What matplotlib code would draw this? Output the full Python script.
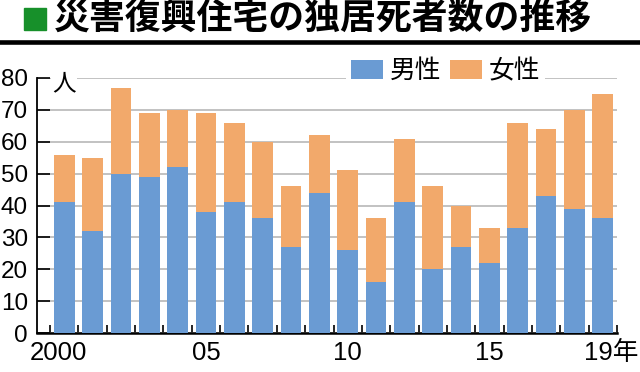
import matplotlib.pyplot as plt
import matplotlib.patches as mpatches
import matplotlib.lines as mlines
import matplotlib.transforms as mtransforms
import numpy as np

# 災害復興住宅の独居死者数（男性・女性）
years = list(range(2000, 2020))
male = [41, 32, 50, 49, 52, 38, 41, 36, 27, 44, 26, 16, 41, 20, 27, 22, 33, 43, 39, 36]
total = [56, 55, 77, 69, 70, 69, 66, 60, 46, 62, 51, 36, 61, 46, 40, 33, 66, 64, 70, 75]
female = [t - m for t, m in zip(total, male)]
tick_pos = [0, 5, 10, 15, 19]
tick_labels = ['2000', '05', '10', '15', '19年']

blue = '#6a9bd3'
orange = '#f2a96b'
jp = ['Noto Sans CJK JP', 'DejaVu Sans']
num = ['Liberation Sans Narrow', 'Liberation Sans', 'Noto Sans CJK JP', 'DejaVu Sans']

fig = plt.figure(figsize=(6.4, 3.72), dpi=100)
ax = fig.add_axes([37/640, 1-333/372, (617-37)/640, (333-78)/372])

x = np.arange(len(years))
ax.bar(x, male, width=0.73, color=blue, zorder=3, label='男性')
ax.bar(x, female, width=0.73, bottom=male, color=orange, zorder=3, label='女性')

ax.set_xlim(-0.96, 19.5)
ax.set_ylim(0, 80)
ax.set_yticks(range(0, 81, 10))
ax.set_xticks(np.arange(-0.5, 19.6, 1))
ax.set_xticklabels([])
ax.set_xticks(tick_pos, minor=True)
ax.set_xticklabels(tick_labels, minor=True, fontfamily=num, fontsize=18.5)
ax.tick_params(axis='x', which='major', direction='in', length=6, width=1.2)
ax.tick_params(axis='x', which='minor', length=0, pad=6)
ax.tick_params(axis='y', direction='in', length=9.5, width=1.2, pad=6.5, labelsize=17.5)
for lab in ax.get_yticklabels():
    lab.set_fontfamily(num)

# 「19年」を右へずらす
lab19 = ax.get_xticklabels(minor=True)[-1]
lab19.set_transform(lab19.get_transform() + mtransforms.ScaledTranslation(8/100, 0, fig.dpi_scale_trans))
lab00 = ax.get_xticklabels(minor=True)[0]
lab00.set_transform(lab00.get_transform() + mtransforms.ScaledTranslation(-6/100, 0, fig.dpi_scale_trans))

ax.grid(axis='y', color='#b8b8b8', lw=1.2, zorder=0)
for s in ['top', 'right']:
    ax.spines[s].set_visible(False)
ax.spines['left'].set_linewidth(1.3)
ax.spines['bottom'].set_linewidth(1.8)

ax.text(0, 78.3, '人', ha='center', va='center', fontsize=17, fontfamily=jp,
        bbox=dict(facecolor='white', edgecolor='none', pad=1), zorder=4)

leg = ax.legend(loc='upper left', bbox_to_anchor=(346/640, 1-53/372), bbox_transform=fig.transFigure,
                ncol=2, frameon=True, fancybox=False, edgecolor='none', facecolor='white', framealpha=1,
                prop={'family': jp, 'size': 18.5}, handlelength=1.25, handleheight=0.75,
                handletextpad=0.25, columnspacing=0.35, borderpad=0.2, borderaxespad=0)
leg.set_zorder(5)

# タイトル
fig.patches.append(mpatches.Rectangle((24/640, 1-30/372), 22/640, 22/372, transform=fig.transFigure,
                                      color='#17902a', figure=fig))
fig.text(54/640, 1-19/372, '災害復興住宅の独居死者数の推移', fontsize=25.8, fontfamily=jp,
         fontweight='bold', va='center', ha='left')
fig.lines.append(mlines.Line2D([0, 1], [1-41.5/372, 1-41.5/372], transform=fig.transFigure,
                               color='black', lw=3.3, figure=fig))

fig.savefig('out.png', dpi=100)
